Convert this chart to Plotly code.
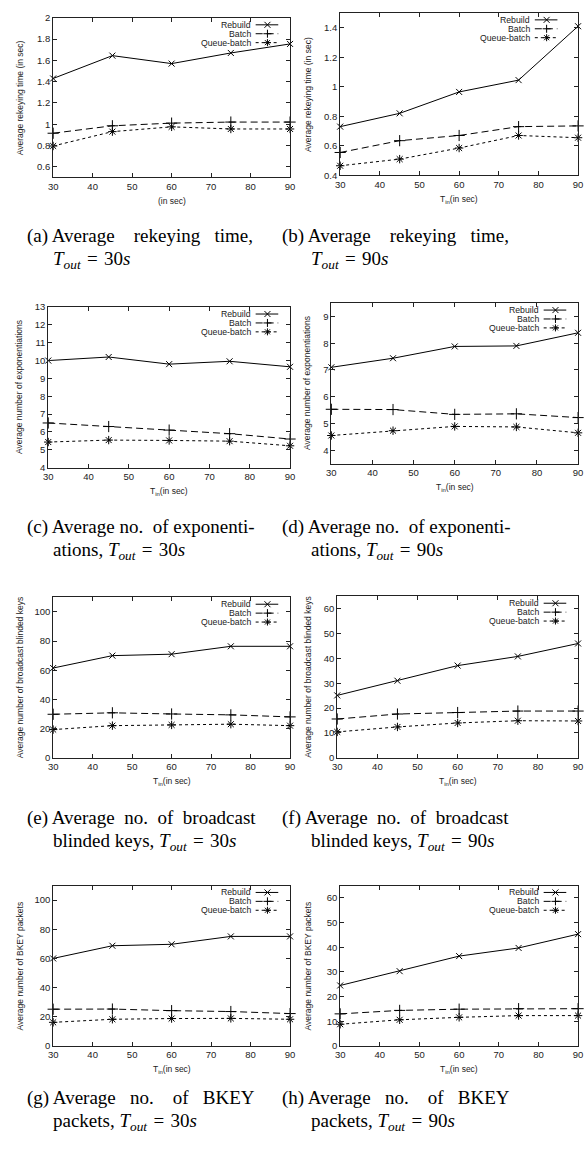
import plotly.graph_objects as go

W, H = 587, 1150

# ---------------- data ----------------
x_tin = [30, 45, 60, 75, 90]
x_ticks = [30, 40, 50, 60, 70, 80, 90]
series_names = ["Rebuild", "Batch", "Queue-batch"]

a_rebuild = [1.43, 1.645, 1.57, 1.67, 1.755]
a_batch = [0.915, 0.985, 1.01, 1.02, 1.02]
a_queue = [0.795, 0.93, 0.975, 0.955, 0.955]

b_rebuild = [0.73, 0.82, 0.965, 1.045, 1.41]
b_batch = [0.555, 0.635, 0.67, 0.73, 0.735]
b_queue = [0.465, 0.51, 0.585, 0.67, 0.655]

c_rebuild = [10.0, 10.2, 9.8, 9.96, 9.65]
c_batch = [6.5, 6.3, 6.1, 5.9, 5.6]
c_queue = [5.43, 5.54, 5.52, 5.48, 5.22]

d_rebuild = [7.1, 7.44, 7.88, 7.9, 8.39]
d_batch = [5.53, 5.52, 5.34, 5.36, 5.22]
d_queue = [4.55, 4.73, 4.89, 4.87, 4.65]

e_rebuild = [61.5, 70, 71, 76.4, 76.4]
e_batch = [29.8, 30.8, 30, 29.4, 28]
e_queue = [19.3, 22, 22.5, 23, 22]

f_rebuild = [25.1, 31, 37.1, 40.8, 46]
f_batch = [15.6, 17.6, 18.2, 18.8, 18.8]
f_queue = [10.4, 12.4, 14, 14.9, 14.8]

g_rebuild = [60, 68.7, 69.7, 75.1, 75.1]
g_batch = [25.2, 25.3, 24.2, 23.6, 22.2]
g_queue = [16.2, 18.3, 18.8, 18.9, 18.3]

h_rebuild = [24.5, 30.3, 36.4, 39.7, 45.3]
h_batch = [13, 14.4, 14.9, 15.1, 15.1]
h_queue = [8.8, 10.6, 11.6, 12.3, 12.3]

yticks_a = [0.6, 0.8, 1, 1.2, 1.4, 1.6, 1.8, 2]
yticks_b = [0.4, 0.6, 0.8, 1, 1.2, 1.4]
yticks_c = [4, 5, 6, 7, 8, 9, 10, 11, 12, 13]
yticks_d = [4, 5, 6, 7, 8, 9]
yticks_e = [0, 20, 40, 60, 80, 100]
yticks_f = [0, 10, 20, 30, 40, 50, 60]

title_time = "Average rekeying time (in sec)"
title_exp = "Average number of exponentiations"
title_bk = "Average number of broadcast blinded keys"
title_pk = "Average number of BKEY packets"
xtitle_tin = "T<sub>in</sub>(in sec)"
xtitle_a = "(in sec)"

tout_30 = "<i>T</i><sub><i>out</i></sub>\u2004=\u200430<i>s</i>"
tout_90 = "<i>T</i><sub><i>out</i></sub>\u2004=\u200490<i>s</i>"

panels = [
    dict(ys=[a_rebuild, a_batch, a_queue], yr=[0.5, 2], yt=yticks_a, ytitle=title_time, xtitle=xtitle_a,
         box=(49, 12, 290, 173), leg=38, col=0,
         cap1="(a) Average rekeying time,", cap2=tout_30),
    dict(ys=[b_rebuild, b_batch, b_queue], yr=[0.4, 1.5], yt=yticks_b, ytitle=title_time, xtitle=xtitle_tin,
         box=(341, 7, 583, 171), leg=47, col=1,
         cap1="(b) Average rekeying time,", cap2=tout_90),
    dict(ys=[c_rebuild, c_batch, c_queue], yr=[4, 13], yt=yticks_c, ytitle=title_exp, xtitle=xtitle_tin,
         box=(44, 304, 290, 466), leg=38, col=0,
         cap1="(c) Average no. of exponenti-", cap2="ations, " + tout_30),
    dict(ys=[d_rebuild, d_batch, d_queue], yr=[3.5, 9.5], yt=yticks_d, ytitle=title_exp, xtitle=xtitle_tin,
         box=(332, 300, 583, 462), leg=38, col=1,
         cap1="(d) Average no. of exponenti-", cap2="ations, " + tout_90),
    dict(ys=[e_rebuild, e_batch, e_queue], yr=[0, 110], yt=yticks_e, ytitle=title_bk, xtitle=xtitle_tin,
         box=(49, 597, 290, 759), leg=38, col=0,
         cap1="(e) Average no. of broadcast", cap2="blinded keys, " + tout_30),
    dict(ys=[f_rebuild, f_batch, f_queue], yr=[0, 65], yt=yticks_f, ytitle=title_bk, xtitle=xtitle_tin,
         box=(338, 596, 583, 759), leg=38, col=1,
         cap1="(f) Average no. of broadcast", cap2="blinded keys, " + tout_90),
    dict(ys=[g_rebuild, g_batch, g_queue], yr=[0, 110], yt=yticks_e, ytitle=title_pk, xtitle=xtitle_tin,
         box=(49, 888, 290, 1050), leg=38, col=0,
         cap1="(g) Average no. of BKEY", cap2="packets, " + tout_30),
    dict(ys=[h_rebuild, h_batch, h_queue], yr=[0, 65], yt=yticks_f, ytitle=title_pk, xtitle=xtitle_tin,
         box=(341, 888, 583, 1050), leg=38, col=1,
         cap1="(h) Average no. of BKEY", cap2="packets, " + tout_90),
]

caption_rows = [232, 526, 820, 1103]
cap_x = [(20, 250, 47), (280, 510, 309)]

# ---------------- styles ----------------
dashes = ["solid", "7px,4px", "3px,3px"]
symbols = ["x-thin-open", "cross-thin-open", "asterisk-open"]
msizes = [6, 8, 7]
SANS = "Liberation Sans"
SERIF = "Liberation Serif"
CAP_SIZE = 19
NBSP = "\u00a0"


def px(x):
    return x / W


def py(y):
    return 1 - y / H


TIMES = {' ': 250, '(': 333, ')': 333, ',': 250, '.': 250, '-': 333,
         'a': 444, 'b': 500, 'c': 444, 'd': 500, 'e': 444, 'f': 333, 'g': 500, 'h': 500,
         'i': 278, 'k': 500, 'l': 278, 'm': 778, 'n': 500, 'o': 500, 'p': 500, 'r': 333,
         's': 389, 't': 278, 'u': 500, 'v': 500, 'x': 500, 'y': 500,
         'A': 722, 'B': 667, 'E': 611, 'K': 722, 'Y': 722}


def tw(s, size):
    return sum(TIMES.get(ch, 500) for ch in s) / 1000 * size


def justify(line, span, size):
    toks = line.split(" ")
    words = [toks[0] + " " + toks[1]] + toks[2:]
    total = sum(tw(w_, size) for w_ in words)
    ngap = len(words) - 1
    sp = 0.25 * size
    per_gap = (span - total) / ngap
    out = words[0]
    acc = 0.0
    for k, w_ in enumerate(words[1:], start=1):
        target = per_gap * k
        n = max(1, int(round((target - acc) / sp)))
        acc += n * sp
        out += " " + NBSP * (n - 1) + w_
    return out


fig = go.Figure()
annotations = []
shapes = []
layout_axes = {}

for i, p in enumerate(panels, start=1):
    l, t, r, b = p["box"]
    xa = "x" if i == 1 else f"x{i}"
    ya = "y" if i == 1 else f"y{i}"
    for k in range(3):
        fig.add_trace(go.Scatter(
            x=x_tin, y=p["ys"][k], xaxis=xa, yaxis=ya, name=series_names[k],
            mode="lines+markers", cliponaxis=False,
            line=dict(color="black", width=1, dash=dashes[k]),
            marker=dict(symbol=symbols[k], size=msizes[k], color="black",
                        line=dict(color="black", width=1)),
            showlegend=False))
    axcommon = dict(showgrid=False, zeroline=False, showline=True, linecolor="#222", linewidth=1,
                    mirror="ticks", ticks="inside", ticklen=4, tickcolor="#222", tickwidth=1,
                    tickfont=dict(family=SANS, size=9.5, color="#222"))
    layout_axes["xaxis" if i == 1 else f"xaxis{i}"] = dict(
        domain=[px(l), px(r)], anchor=ya, range=[30, 90], tickvals=x_ticks,
        ticktext=[str(v) for v in x_ticks], **axcommon)
    layout_axes["yaxis" if i == 1 else f"yaxis{i}"] = dict(
        domain=[py(b), py(t)], anchor=xa, range=p["yr"], tickvals=p["yt"],
        ticktext=[f"{v:g}" for v in p["yt"]], **axcommon)

    # axis titles
    ytx = 15 if p["col"] == 0 else 308
    annotations.append(dict(text=p["ytitle"], x=px(ytx), y=py((t + b) / 2), xref="paper", yref="paper",
                            textangle=-90, showarrow=False, xanchor="center", yanchor="middle",
                            font=dict(family=SANS, size=8.5, color="#222")))
    annotations.append(dict(text=p["xtitle"], x=px((l + r) / 2), y=py(b + 24), xref="paper", yref="paper",
                            showarrow=False, xanchor="center", yanchor="middle",
                            font=dict(family=SANS, size=8.5, color="#222")))

    # legend (gnuplot style: text then sample)
    off = p["leg"]
    for k in range(3):
        yy = t + 7 + 9 * k
        annotations.append(dict(text=series_names[k], x=px(r - off), y=py(yy), xref="paper", yref="paper",
                                showarrow=False, xanchor="right", yanchor="middle",
                                font=dict(family=SANS, size=8.7, color="#222")))
        shapes.append(dict(type="line", xref="paper", yref="paper",
                           x0=px(r - off + 3), x1=px(r - off + 26), y0=py(yy), y1=py(yy),
                           line=dict(color="black", width=1, dash=dashes[k])))
        mx = r - off + 15
        paths = ["M-3,-3L3,3M-3,3L3,-3", "M-4,0L4,0M0,-4L0,4",
                 "M-3.5,0L3.5,0M0,-3.5L0,3.5M-2.5,-2.5L2.5,2.5M-2.5,2.5L2.5,-2.5"]
        shapes.append(dict(type="path", xref="paper", yref="paper", xsizemode="pixel", ysizemode="pixel",
                           xanchor=px(mx), yanchor=py(yy), path=paths[k],
                           line=dict(color="black", width=1)))

    # captions
    row = (i - 1) // 2
    x0c, x1c, x2c = cap_x[p["col"]]
    y1 = caption_rows[row]
    annotations.append(dict(text=justify(p["cap1"], x1c - x0c, CAP_SIZE), x=px(x0c), y=py(y1),
                            xref="paper", yref="paper", showarrow=False, xanchor="left", yanchor="middle",
                            font=dict(family=SERIF, size=CAP_SIZE, color="black")))
    annotations.append(dict(text=p["cap2"], x=px(x2c), y=py(y1 + 24), xref="paper", yref="paper",
                            showarrow=False, xanchor="left", yanchor="middle",
                            font=dict(family=SERIF, size=CAP_SIZE, color="black")))

fig.update_layout(
    width=W, height=H, margin=dict(l=0, r=0, t=0, b=0),
    paper_bgcolor="white", plot_bgcolor="white", showlegend=False,
    annotations=annotations, shapes=shapes, **layout_axes)

fig.write_html("out.html", config={"displayModeBar": False},
               post_script="document.body.style.margin='0';document.body.style.overflow='hidden';")
